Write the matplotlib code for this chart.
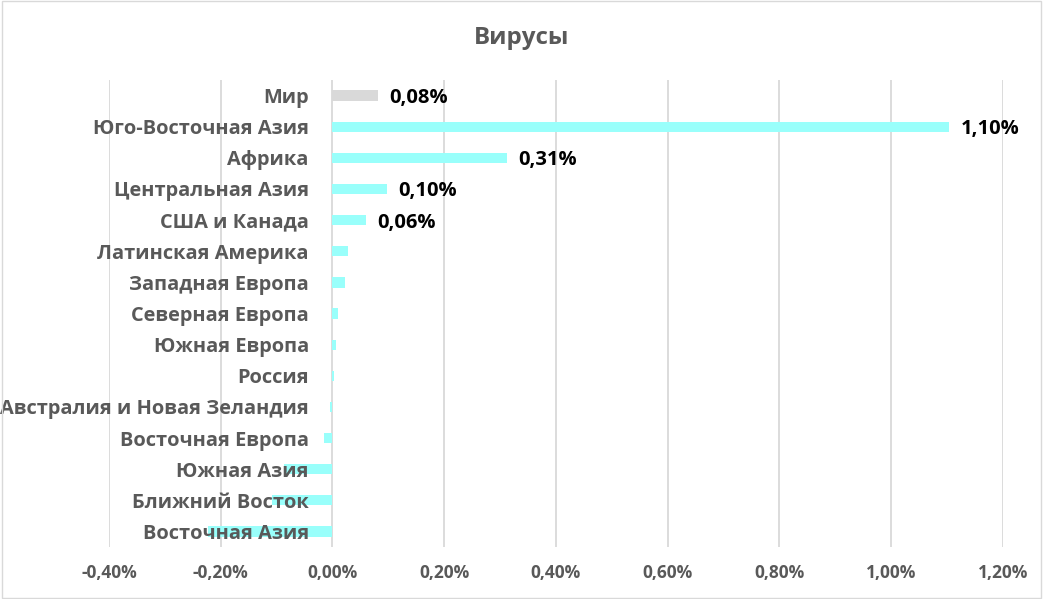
import matplotlib.pyplot as plt
from matplotlib.ticker import FuncFormatter

# Данные (в процентах)
regions = ['Мир', 'Юго-Восточная Азия', 'Африка', 'Центральная Азия', 'США и Канада',
           'Латинская Америка', 'Западная Европа', 'Северная Европа', 'Южная Европа',
           'Россия', 'Австралия и Новая Зеландия', 'Восточная Европа', 'Южная Азия',
           'Ближний Восток', 'Восточная Азия']
values = [0.081, 1.104, 0.313, 0.097, 0.060,
          0.027, 0.023, 0.010, 0.0066,
          0.002, -0.005, -0.016, -0.087,
          -0.108, -0.222]
labeled = ['Мир', 'Юго-Восточная Азия', 'Африка', 'Центральная Азия', 'США и Канада']

plt.rcParams['font.family'] = ['Open Sans', 'DejaVu Sans']

fig = plt.figure(figsize=(10.43, 5.99), dpi=100)
ax = fig.add_axes([0.1045, 0.0868, 0.857, 0.7796])

colors = ['#d9d9d9' if r == 'Мир' else '#99fffb' for r in regions]
ypos = list(range(len(regions)))
ax.barh(ypos, values, height=0.33, color=colors, zorder=2)

ax.set_xlim(-0.4, 1.2)
ax.set_ylim(len(regions) - 0.5, -0.5)
ax.set_xticks([-0.4, -0.2, 0, 0.2, 0.4, 0.6, 0.8, 1.0, 1.2])
ax.xaxis.set_major_formatter(FuncFormatter(lambda v, p: f'{v:.2f}%'.replace('.', ',')))
ax.tick_params(axis='x', length=0, pad=12, labelsize=12.5, labelcolor='#595959')
ax.set_yticks([])
ax.grid(axis='x', color='#d9d9d9', linewidth=1.3, zorder=0)
for s in ax.spines.values():
    s.set_visible(False)
for lbl in ax.get_xticklabels():
    lbl.set_fontweight('bold')

# Подписи категорий возле оси (x = 0)
for y, name in zip(ypos, regions):
    ax.annotate(name, xy=(0, y), xytext=(-17, 0), textcoords='offset points',
                ha='right', va='center_baseline', fontsize=14.4, fontweight='bold',
                color='#595959', zorder=3)

# Подписи значений
for y, name, v in zip(ypos, regions, values):
    if name in labeled:
        ax.annotate(f'{v:.2f}%'.replace('.', ','), xy=(v, y), xytext=(8, 0),
                    textcoords='offset points', ha='left', va='center_baseline',
                    fontsize=14.5, fontweight='bold', color='black')

fig.text(0.5, 0.937, 'Вирусы', ha='center', va='center', fontsize=17.4,
         fontweight='bold', color='#595959')

fig.patches.append(plt.Rectangle((0.0015, 0.002), 0.997, 0.996, transform=fig.transFigure,
                                 fill=False, edgecolor='#d9d9d9', linewidth=1))

fig.savefig('out.png', dpi=100)
